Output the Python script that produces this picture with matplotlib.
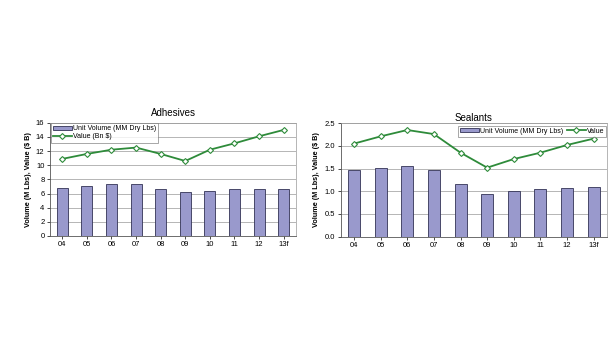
import numpy as np
import matplotlib
matplotlib.use('Agg')
import matplotlib.pyplot as plt

# data
years = ['04', '05', '06', '07', '08', '09', '10', '11', '12', '13f']
adh_volume = [6.8, 7.0, 7.3, 7.4, 6.7, 6.2, 6.4, 6.6, 6.7, 6.7]
adh_value = [10.9, 11.6, 12.2, 12.5, 11.6, 10.6, 12.2, 13.1, 14.1, 15.0]
seal_volume = [1.46, 1.51, 1.56, 1.47, 1.15, 0.95, 1.00, 1.04, 1.07, 1.09]
seal_value = [2.05, 2.21, 2.35, 2.26, 1.85, 1.52, 1.71, 1.85, 2.02, 2.16]

bar_color = '#9999CC'
line_color = '#2E8B3A'

plt.rcParams['font.family'] = ['Liberation Sans', 'DejaVu Sans']

fig = plt.figure(figsize=(6.15, 3.5), dpi=100)
ax1 = fig.add_axes([0.0813, 0.326, 0.400, 0.323])
ax2 = fig.add_axes([0.554, 0.324, 0.433, 0.324])


def draw(ax, vol, val, title, title_pad, ylim, yticks, fmt, vol_label, val_label, leg_kw):
    x = np.arange(len(years))
    bars = ax.bar(x, vol, width=0.45, color=bar_color, edgecolor='#333355', linewidth=0.6,
                  label=vol_label, zorder=2)
    line, = ax.plot(x, val, color=line_color, lw=1.3, marker='D', markersize=3,
                    markerfacecolor='white', markeredgecolor=line_color, markeredgewidth=0.8,
                    label=val_label, zorder=3)
    ax.set_xlim(-0.5, len(years) - 0.5)
    ax.set_ylim(*ylim)
    ax.set_yticks(yticks)
    ax.set_yticklabels([fmt.format(t) for t in yticks])
    ax.set_xticks(x)
    ax.set_xticklabels(years)
    ax.tick_params(labelsize=5.5, length=2, width=0.5, pad=2)
    ax.yaxis.grid(True, color='#999999', lw=0.5, zorder=0)
    for s in ['top', 'right']:
        ax.spines[s].set_color('#999999')
        ax.spines[s].set_linewidth(0.5)
    for s in ['left', 'bottom']:
        ax.spines[s].set_color('#555555')
        ax.spines[s].set_linewidth(0.6)
    ax.set_title(title, fontsize=7, pad=title_pad)
    ax.set_ylabel('Volume (M Lbs), Value ($ B)', fontsize=5.2, fontweight='bold', labelpad=3)
    leg = ax.legend([bars, line], [vol_label, val_label], fontsize=5, frameon=True,
                    fancybox=False, borderpad=0.3, handlelength=2.8, handleheight=0.5,
                    handletextpad=0.1, borderaxespad=0.1, **leg_kw)
    leg.get_frame().set_edgecolor('#666666')
    leg.get_frame().set_linewidth(0.5)
    return leg


draw(ax1, adh_volume, adh_value, 'Adhesives', 5, (0, 16), list(range(0, 17, 2)), '{:d}',
     'Unit Volume (MM Dry Lbs)', 'Value (Bn $)',
     dict(loc='upper left', ncol=1, labelspacing=0.2, bbox_to_anchor=(0.0, 1.005)))
draw(ax2, seal_volume, seal_value, 'Sealants', 1.5, (0, 2.5), [0, 0.5, 1.0, 1.5, 2.0, 2.5], '{:.1f}',
     'Unit Volume (MM Dry Lbs)', 'Value',
     dict(loc='upper right', ncol=2, columnspacing=0.5, bbox_to_anchor=(1.0, 0.985)))

fig.savefig('out.png', dpi=100)
